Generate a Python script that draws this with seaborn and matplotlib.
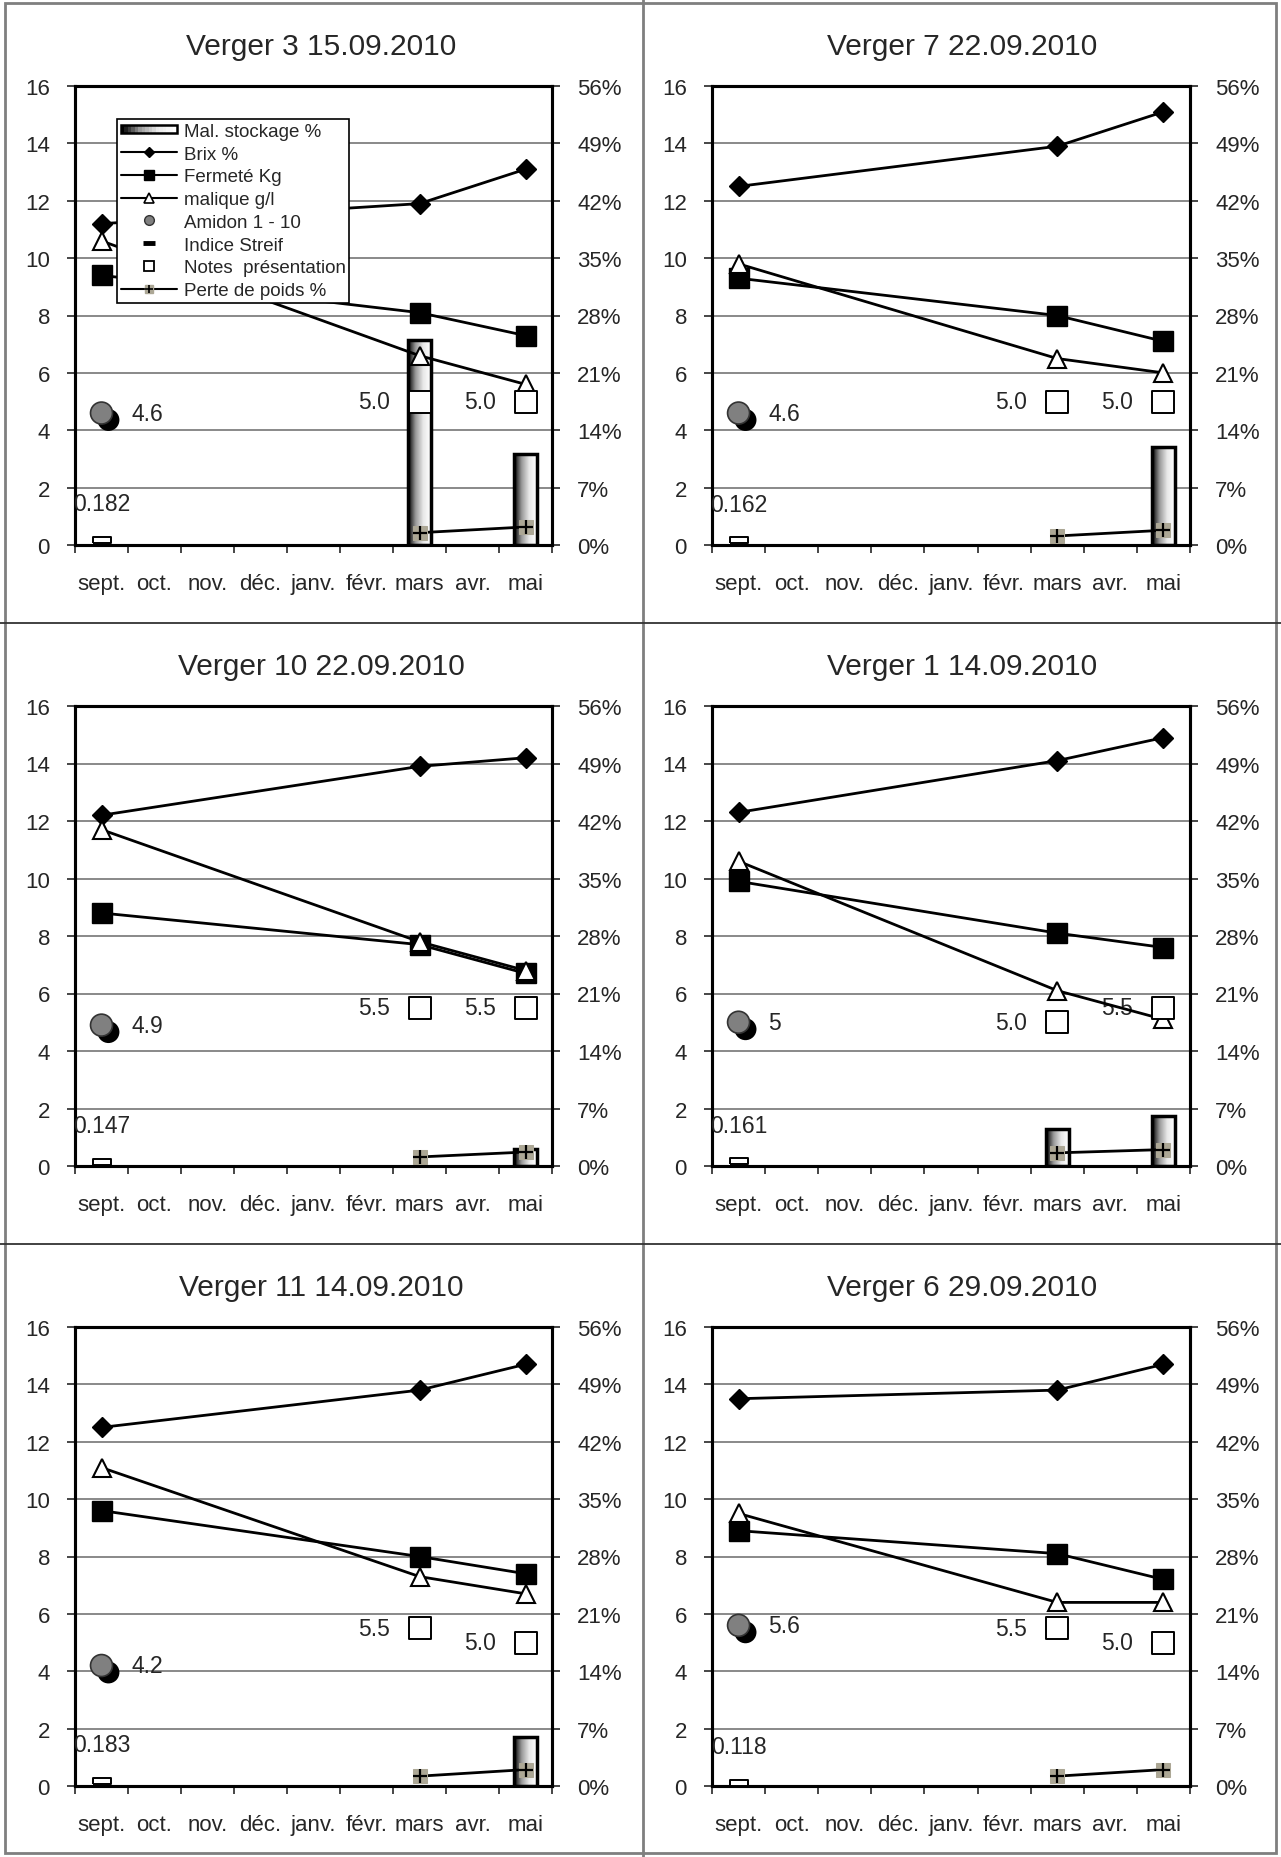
import numpy as np
import pandas as pd
import seaborn as sns
import matplotlib
matplotlib.use('Agg')
import matplotlib.pyplot as plt
import matplotlib.patheffects as pe
from matplotlib.lines import Line2D
from matplotlib.patches import Rectangle, Patch
from matplotlib.legend_handler import HandlerBase, HandlerTuple
from matplotlib.colors import LinearSegmentedColormap
from matplotlib.ticker import FuncFormatter

nan = np.nan

# --- data ---
months = ['sept.', 'oct.', 'nov.', 'déc.', 'janv.', 'févr.', 'mars', 'avr.', 'mai']
mesures = ['sept.', 'mars', 'mai']      # dates of the lab measurements
stockage = ['mars', 'mai']              # dates after storage

titles = ['Verger 3 15.09.2010', 'Verger 7 22.09.2010', 'Verger 10 22.09.2010',
          'Verger 1 14.09.2010', 'Verger 11 14.09.2010', 'Verger 6 29.09.2010']

brix = [[11.2, 11.9, 13.1], [12.5, 13.9, 15.1], [12.2, 13.9, 14.2],
        [12.3, 14.1, 14.9], [12.5, 13.8, 14.7], [13.5, 13.8, 14.7]]
fermete = [[9.4, 8.1, 7.3], [9.3, 8.0, 7.1], [8.8, 7.7, 6.7],
           [9.9, 8.1, 7.6], [9.6, 8.0, 7.4], [8.9, 8.1, 7.2]]
malique = [[10.6, 6.6, 5.6], [9.8, 6.5, 6.0], [11.7, 7.8, 6.8],
           [10.6, 6.1, 5.1], [11.1, 7.3, 6.7], [9.5, 6.4, 6.4]]
amidon = [4.6, 4.6, 4.9, 5, 4.2, 5.6]
streif = [0.182, 0.162, 0.147, 0.161, 0.183, 0.118]
notes = [[5.0, 5.0], [5.0, 5.0], [5.5, 5.5], [5.0, 5.5], [5.5, 5.0], [5.5, 5.0]]
mal_stockage = [[25.0, 11.1], [nan, 12.0], [nan, 2.1],
                [4.5, 6.1], [nan, 6.0], [nan, nan]]           # % (right axis)
perte = [[1.5, 2.2], [1.1, 1.8], [1.1, 1.7],
         [1.6, 2.0], [1.2, 2.0], [1.2, 2.0]]                    # % (right axis)

# --- style ---
sns.set_style('white')
plt.rcParams['font.family'] = ['Liberation Sans', 'DejaVu Sans']
FS = 16
TAN = '#aca795'
grad_cmap = LinearSegmentedColormap.from_list('bar', ['#000000', '#9a9a9a', '#e8e8e8', '#ffffff'])

W, H = 1281, 1858
fig = plt.figure(figsize=(W / 100, H / 100), dpi=100)

col_l = [75, 712]
col_r = [552, 1190]
row_t = [87, 707, 1328]
row_b = [546, 1167, 1787]
col_center = [321, 962]

streif_marker = [(-0.5, -0.14), (0.5, -0.14), (0.5, 0.14), (-0.5, 0.14), (-0.5, -0.14)]


class GradientHandler(HandlerBase):
    def create_artists(self, legend, orig_handle, xdescent, ydescent, width, height, fontsize, trans):
        arts = []
        n = 16
        y0 = -ydescent + height * 0.2
        h = height * 0.6
        for k in range(n):
            c = grad_cmap(k / (n - 1))
            arts.append(Rectangle((-xdescent + k * width / n, y0), width / n + 0.3, h,
                                  facecolor=c, lw=0, transform=trans))
        arts.append(Rectangle((-xdescent, y0), width, h, facecolor='none',
                              edgecolor='black', lw=1.8, transform=trans))
        return arts


def pos(labels):
    return [months.index(m) for m in labels]


for i, title in enumerate(titles):
    r, c = divmod(i, 2)
    ax = fig.add_axes([col_l[c] / W, 1 - row_b[r] / H,
                       (col_r[c] - col_l[c]) / W, (row_b[r] - row_t[r]) / H])
    ax2 = ax.twinx()
    ax.set_zorder(ax2.get_zorder() + 1)
    ax.patch.set_visible(False)

    # storage disorder bars (right axis) with horizontal gradient
    df_bar = pd.DataFrame({'mois': stockage, 'val': mal_stockage[i]}).dropna()
    if len(df_bar):
        sns.barplot(data=df_bar, x='mois', y='val', order=months, ax=ax2,
                    width=0.43, color='white', edgecolor='black', linewidth=2.5,
                    zorder=3)
        grad = np.linspace(0, 1, 64).reshape(1, -1)
        for patch in list(ax2.patches):
            x0, y0 = patch.get_x(), patch.get_y()
            w, h = patch.get_width(), patch.get_height()
            if not np.isfinite(h) or h <= 0:
                continue
            ax2.imshow(grad, extent=[x0, x0 + w, y0, y0 + h], aspect='auto',
                       cmap=grad_cmap, zorder=2.9, interpolation='bilinear')
            patch.set_facecolor('none')

    # weight loss (right axis)
    sns.lineplot(x=pos(stockage), y=perte[i], ax=ax2, color='black', lw=2,
                 marker='s', markersize=10, markerfacecolor=TAN,
                 markeredgecolor=TAN, zorder=5)
    sns.scatterplot(x=pos(stockage), y=perte[i], ax=ax2, marker='+', s=110,
                    color='black', linewidth=1.6, zorder=6)

    # left-axis series
    sns.lineplot(x=pos(mesures), y=brix[i], ax=ax, color='black', lw=2,
                 marker='D', markersize=10.5, markeredgecolor='black',
                 markeredgewidth=1, zorder=4)
    sns.lineplot(x=pos(mesures), y=fermete[i], ax=ax, color='black', lw=2,
                 marker='s', markersize=14.5, markeredgecolor='black',
                 markeredgewidth=1, zorder=4)
    sns.lineplot(x=pos(mesures), y=malique[i], ax=ax, color='black', lw=2,
                 marker='^', markersize=13, markerfacecolor='white',
                 markeredgecolor='black', markeredgewidth=1.5, zorder=5)

    # starch (grey circle with black shadow)
    sns.scatterplot(x=pos(['sept.']), y=[amidon[i]], ax=ax, s=250, color='#808080',
                    edgecolor='#333333', linewidth=1.2, zorder=6,
                    path_effects=[pe.SimplePatchShadow(offset=(5, -5), shadow_rgbFace='black',
                                                       alpha=1.0), pe.Normal()])
    ax.annotate(f'{amidon[i]:g}', xy=(pos(['sept.'])[0], amidon[i]), xytext=(30, 0),
                textcoords='offset pixels', ha='left', va='center', fontsize=FS + 0.5)

    # Streif index
    sns.scatterplot(x=pos(['sept.']), y=[streif[i]], ax=ax, marker=streif_marker, s=170,
                    color='white', edgecolor='black', linewidth=1.4, zorder=6)
    ax.annotate(f'{streif[i]:g}', xy=(pos(['sept.'])[0], streif[i]), xytext=(0, 36),
                textcoords='offset pixels', ha='center', va='center', fontsize=FS + 0.5)

    # presentation notes
    sns.scatterplot(x=pos(stockage), y=notes[i], ax=ax, marker='s', s=250,
                    color='white', edgecolor='black', linewidth=1.4, zorder=7)
    for p, v in zip(pos(stockage), notes[i]):
        ax.annotate(f'{v:.1f}', xy=(p, v), xytext=(-30, 0), textcoords='offset pixels',
                    ha='right', va='center', fontsize=FS + 0.5)

    # axes formatting
    ax.set_xlim(-0.5, 8.5)
    ax.set_ylim(0, 16)
    ax2.set_ylim(0, 56)
    ax.set_yticks(np.arange(0, 17, 2))
    ax2.set_yticks(np.arange(0, 57, 7))
    ax2.yaxis.set_major_formatter(FuncFormatter(lambda v, _: f'{v:.0f}%'))
    ax.set_xticks(range(len(months)))
    ax.set_xticklabels(months)
    ax.set_xticks(np.arange(-0.5, len(months), 1), minor=True)
    ax.tick_params(axis='x', which='major', length=0, pad=20, labelsize=FS)
    ax.tick_params(axis='x', which='minor', length=6, width=1.2, direction='out', bottom=True)
    ax.tick_params(axis='y', length=6, width=1.2, direction='out', left=True, pad=12, labelsize=FS)
    ax2.tick_params(axis='y', length=6, width=1.2, direction='out', right=True, pad=12, labelsize=FS)
    ax2.yaxis.grid(True, color='#808080', lw=1.3)
    ax2.set_axisbelow(True)
    ax.grid(False)
    for a in (ax, ax2):
        a.set_xlabel('')
        a.set_ylabel('')
        for s in a.spines.values():
            s.set_color('black')
            s.set_linewidth(2.2)

    fig.text(col_center[c] / W, 1 - (row_t[r] - 40) / H, title, ha='center', va='center',
             fontsize=21.5)

    if i == 0:
        handles = [
            Patch(facecolor='white', edgecolor='black'),
            Line2D([], [], color='black', lw=1.5, marker='D', ms=5),
            Line2D([], [], color='black', lw=1.5, marker='s', ms=7),
            Line2D([], [], color='black', lw=1.5, marker='^', ms=7, mfc='white', mew=1.2),
            Line2D([], [], ls='none', marker='o', ms=7, mfc='#808080', mec='#333333'),
            Line2D([], [], ls='none', marker='_', ms=8, mew=3.5, color='black'),
            Line2D([], [], ls='none', marker='s', ms=7, mfc='white', mec='black', mew=1.3),
            (Line2D([], [], color='black', lw=1.5, marker='s', ms=6, mfc=TAN, mec=TAN),
             Line2D([], [], ls='none', marker='+', ms=6, color='black', mew=1.2)),
        ]
        labels = ['Mal. stockage %', 'Brix %', 'Fermeté Kg', 'malique g/l', 'Amidon 1 - 10',
                  'Indice Streif', 'Notes  présentation', 'Perte de poids %']
        leg = ax.legend(handles, labels, loc='upper left', bbox_to_anchor=(0.088, 0.928),
                        borderaxespad=0, fontsize=13.5, handlelength=3.0, handletextpad=0.35,
                        labelspacing=0.3, borderpad=0.2, fancybox=False, framealpha=1,
                        edgecolor='black', numpoints=1,
                        handler_map={Patch: GradientHandler(), tuple: HandlerTuple(ndivide=1)})
        leg.get_frame().set_linewidth(1.2)
        leg.set_zorder(20)

# panel frame
for x in (643,):
    fig.add_artist(Line2D([x / W, x / W], [0, 1], color='#7f7f7f', lw=2))
for y in (624, 1245):
    fig.add_artist(Line2D([0, 1], [1 - y / H, 1 - y / H], color='#333333', lw=1.3))
fig.add_artist(Rectangle((5 / W, 4 / H), 1 - 10 / W, 1 - 8 / H, transform=fig.transFigure,
                         facecolor='none', edgecolor='#7f7f7f', lw=2))

fig.savefig('out.png', dpi=100)
